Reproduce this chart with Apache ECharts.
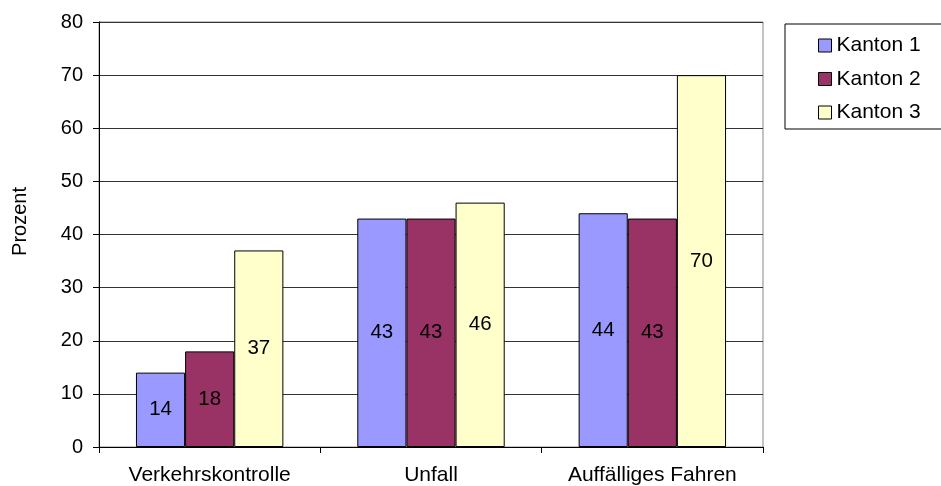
<!DOCTYPE html>
<html><head><meta charset="utf-8">
<script src="https://cdn.jsdelivr.net/npm/echarts@6/dist/echarts.min.js"></script>
<style>html,body{margin:0;padding:0;background:#fff}#c{width:941px;height:486px}</style>
</head><body><div id="c"></div>
<script>
const categories = ['Verkehrskontrolle', 'Unfall', 'Auffälliges Fahren'];
const kanton1 = [14, 43, 44];
const kanton2 = [18, 43, 43];
const kanton3 = [37, 46, 70];
const seriesNames = ['Kanton 1', 'Kanton 2', 'Kanton 3'];
const yTicks = [0, 10, 20, 30, 40, 50, 60, 70, 80];

const colors = ['#9999FF', '#993366', '#FFFFCC'];
const font = 'Arial, "Liberation Sans", sans-serif';
const chart = echarts.init(document.getElementById('c'));
const mk = (name, data, i) => ({
  name, type: 'bar', data,
  barWidth: '22.2%', barGap: '0%',
  itemStyle: { color: colors[i], borderColor: '#000', borderWidth: 1 },
  label: { show: true, position: 'inside', color: '#000', fontSize: 20.5, fontFamily: font },
  emphasis: { disabled: true }
});
chart.setOption({
  animation: false,
  grid: { left: 99, right: 178, top: 22, bottom: 39, show: true, borderColor: '#888', borderWidth: 1 },
  legend: {
    orient: 'vertical', left: 785, top: 24,
    padding: [11, 27, 6, 33],
    itemGap: 12.5,
    backgroundColor: '#fff', borderColor: '#000', borderWidth: 1,
    itemWidth: 13, itemHeight: 13, icon: 'rect',
    textStyle: { fontSize: 21, fontFamily: font, color: '#000' },
    data: seriesNames.map((n, i) => ({ name: n, itemStyle: { borderColor: '#000', borderWidth: 1 } }))
  },
  xAxis: {
    type: 'category', data: categories,
    axisLine: { lineStyle: { color: '#000' } },
    axisTick: { show: true, length: 6, lineStyle: { color: '#000' } },
    axisLabel: { fontSize: 21, fontFamily: font, color: '#000', margin: 18 }
  },
  yAxis: {
    type: 'value', min: yTicks[0], max: yTicks[yTicks.length - 1], interval: 10,
    name: 'Prozent', nameLocation: 'middle', nameGap: 69, nameRotate: 90,
    nameTextStyle: { fontSize: 20, fontFamily: font, color: '#000', padding: [0, 0, 0, 26] },
    axisLine: { show: true, lineStyle: { color: '#000' } },
    axisTick: { show: true, length: 6, lineStyle: { color: '#000' } },
    axisLabel: { fontSize: 20, fontFamily: font, color: '#000', margin: 16 },
    splitLine: { show: true, lineStyle: { color: '#333' } }
  },
  series: [mk(seriesNames[0], kanton1, 0), mk(seriesNames[1], kanton2, 1), mk(seriesNames[2], kanton3, 2)]
});
</script></body></html>
